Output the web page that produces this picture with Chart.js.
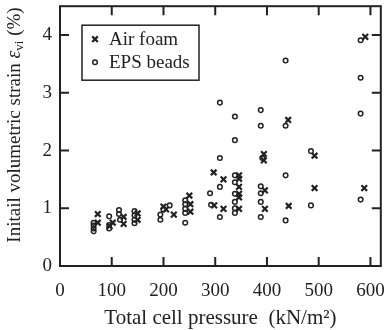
<!DOCTYPE html>
<html><head><meta charset="utf-8">
<script src="https://cdn.jsdelivr.net/npm/chart.js@4.4.1/dist/chart.umd.min.js"></script>
<style>html,body{margin:0;padding:0;background:#fff;}</style>
</head><body>
<canvas id="c" width="387" height="330" style="width:387px;height:330px;display:block"></canvas>
<script>
const xTickValues = [0, 100, 200, 300, 400, 500, 600];
const yTickValues = [0, 1, 2, 3, 4];
const seriesLabels = ['Air foam', 'EPS beads'];

const airFoamX = [73, 73, 102, 96, 123, 123, 150, 150, 200, 205, 220, 250, 252, 252,
  297, 316, 298, 316, 346, 346, 346, 346, 346, 346, 394, 394, 396, 396, 441, 442, 492, 492, 590, 588];
const airFoamY = [0.90, 0.75, 0.75, 0.69, 0.85, 0.73, 0.91, 0.80, 1.03, 0.98, 0.89, 1.22, 1.07, 0.94,
  1.62, 1.50, 1.05, 0.99, 1.57, 1.51, 1.37, 1.25, 1.19, 0.99, 1.94, 1.83, 1.31, 0.99, 2.53, 1.04, 1.91, 1.35, 3.97, 1.35];

const epsX = [65, 65, 65, 65, 95, 95, 95, 114, 114, 116, 144, 144, 144, 144, 194, 194, 200, 212,
  242, 242, 242, 242, 242, 290, 292, 309, 309, 309, 309,
  338, 338, 338, 338, 338, 338, 338, 338, 388, 388, 391, 388, 388, 388, 388,
  436, 436, 436, 436, 485, 485, 581, 581, 581, 581];
const epsY = [0.75, 0.70, 0.65, 0.60, 0.86, 0.71, 0.65, 0.97, 0.90, 0.80, 0.95, 0.88, 0.80, 0.74, 0.89, 0.80, 0.98, 1.05,
  1.14, 1.07, 0.99, 0.92, 0.75, 1.26, 1.06, 2.83, 1.87, 1.37, 0.85,
  2.59, 2.18, 1.57, 1.45, 1.25, 1.11, 1.00, 0.92, 2.70, 2.43, 1.87, 1.38, 1.26, 1.11, 0.85,
  3.56, 2.43, 1.57, 0.79, 1.99, 1.05, 3.91, 3.26, 2.64, 1.15];

const INK = '#222';
const SERIF = '"Liberation Serif", "Times New Roman", serif';

const toPts = (xs, ys) => xs.map((v, i) => ({ x: v, y: ys[i] }));

const boxPlugin = {
  id: 'boxTicks',
  afterDraw(chart) {
    const { ctx, chartArea: a, scales: { x, y } } = chart;
    ctx.save();
    ctx.strokeStyle = INK;
    ctx.lineWidth = 2;
    ctx.strokeRect(a.left, a.top, a.right - a.left, a.bottom - a.top);
    const L = 9;
    ctx.beginPath();
    x.ticks.forEach(t => {
      const p = x.getPixelForValue(t.value);
      ctx.moveTo(p, a.bottom); ctx.lineTo(p, a.bottom - L);
      ctx.moveTo(p, a.top); ctx.lineTo(p, a.top + L);
    });
    y.ticks.forEach(t => {
      const p = y.getPixelForValue(t.value);
      ctx.moveTo(a.left, p); ctx.lineTo(a.left + L, p);
      ctx.moveTo(a.right, p); ctx.lineTo(a.right - L, p);
    });
    ctx.stroke();

    // legend box
    const lx = a.left + 22, ly = a.top + 19, lw = 117, lh = 55;
    ctx.lineWidth = 1.5;
    ctx.strokeRect(lx, ly, lw, lh);
    const rows = [ly + 14, ly + 37];
    chart.data.datasets.forEach((ds, i) => {
      ctx.strokeStyle = INK; ctx.fillStyle = 'rgba(0,0,0,0)';
      ctx.lineWidth = ds.borderWidth;
      Chart.helpers.drawPoint(ctx, { pointStyle: ds.pointStyle, radius: ds.pointRadius, rotation: 0, borderWidth: ds.borderWidth }, lx + 13, rows[i]);
      ctx.fillStyle = INK;
      ctx.font = '19px ' + SERIF;
      ctx.textBaseline = 'middle';
      ctx.textAlign = 'left';
      ctx.fillText(ds.label, lx + 27, rows[i] + 1);
    });

    // y axis title with italic epsilon and subscript
    ctx.save();
    ctx.translate(15, 125);
    ctx.rotate(-Math.PI / 2);
    ctx.fillStyle = INK;
    ctx.textBaseline = 'middle';
    ctx.textAlign = 'left';
    const parts = [
      { t: 'Initail volumetric strain ', f: '19px ' + SERIF, dy: 0 },
      { t: '\u03b5', f: 'italic 20px ' + SERIF, dy: 0 },
      { t: 'vi', f: '13px ' + SERIF, dy: 5 },
      { t: ' (%)', f: '19px ' + SERIF, dy: 0 }
    ];
    let total = 0;
    parts.forEach(p => { ctx.font = p.f; p.w = ctx.measureText(p.t).width; total += p.w; });
    let cx = -total / 2;
    parts.forEach(p => { ctx.font = p.f; ctx.fillText(p.t, cx, p.dy); cx += p.w; });
    ctx.restore();
    ctx.restore();
  }
};

new Chart(document.getElementById('c'), {
  type: 'scatter',
  data: {
    datasets: [
      {
        label: seriesLabels[0],
        data: toPts(airFoamX, airFoamY),
        pointStyle: 'crossRot',
        pointRadius: 4,
        borderWidth: 2.2,
        borderColor: INK,
        backgroundColor: INK
      },
      {
        label: seriesLabels[1],
        data: toPts(epsX, epsY),
        pointStyle: 'circle',
        pointRadius: 2.3,
        borderWidth: 1.5,
        borderColor: INK,
        backgroundColor: 'rgba(0,0,0,0)'
      }
    ]
  },
  options: {
    responsive: false,
    animation: false,
    devicePixelRatio: 1,
    layout: { padding: { top: 5, right: 5, left: 0, bottom: 0 } },
    plugins: { legend: { display: false }, tooltip: { enabled: false } },
    scales: {
      x: {
        type: 'linear',
        min: 0, max: 620,
        afterBuildTicks: s => { s.ticks = xTickValues.map(v => ({ value: v })); },
        afterFit: s => { s.height = 64; s.paddingLeft = 0; s.paddingRight = 0; },
        grid: { display: false, drawTicks: false },
        border: { display: false },
        ticks: { color: INK, font: { family: SERIF, size: 19 }, padding: 14, maxRotation: 0 },
        title: { display: true, text: 'Total cell pressure  (kN/m\u00b2)', color: INK, font: { family: SERIF, size: 21, lineHeight: 1.05 }, padding: { top: 0, bottom: 0 } }
      },
      y: {
        type: 'linear',
        min: 0, max: 4.5,
        afterBuildTicks: s => { s.ticks = yTickValues.map(v => ({ value: v })); },
        afterFit: s => { s.width = 60; s.paddingTop = 0; s.paddingBottom = 0; },
        grid: { display: false, drawTicks: false },
        border: { display: false },
        ticks: { color: INK, font: { family: SERIF, size: 19 }, padding: 8 }
      }
    }
  },
  plugins: [boxPlugin]
});
</script>
</body></html>
